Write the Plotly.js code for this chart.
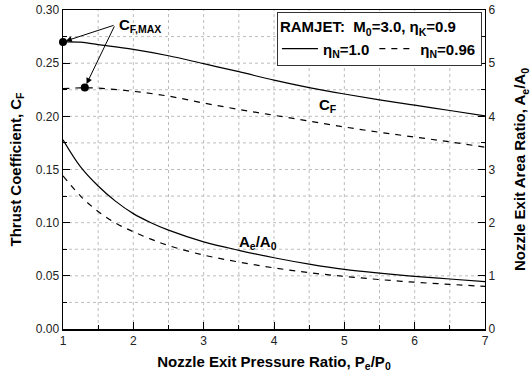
<!DOCTYPE html>
<html>
<head>
<meta charset="utf-8">
<script src="https://cdn.plot.ly/plotly-3.0.1.min.js"></script>
<style>html,body{margin:0;padding:0;background:#fff;}#chart{width:531px;height:378px;}</style>
</head>
<body>
<div id="chart"></div>
<script>
// Pressure ratio Pe/P0
const cfX = [1, 1.25, 1.5, 2, 2.5, 3, 3.5, 4, 4.5, 5, 5.5, 6, 6.5, 7];
// Thrust coefficient, eta_N = 1.0
const cfIdeal = [0.270, 0.2697, 0.2675, 0.263, 0.257, 0.2495, 0.2420, 0.2340, 0.2270, 0.2210, 0.2155, 0.2105, 0.2055, 0.2005];
// Thrust coefficient, eta_N = 0.96
const cfReal = [0.226, 0.2268, 0.2265, 0.2235, 0.219, 0.2125, 0.2065, 0.2010, 0.1955, 0.1900, 0.1850, 0.1805, 0.1760, 0.1710];

const aeX = [1, 1.25, 1.5, 1.75, 2, 2.25, 2.5, 3, 3.5, 4, 4.5, 5, 5.5, 6, 6.5, 7];
// Nozzle exit area ratio Ae/A0, eta_N = 1.0
const aeIdeal = [3.56, 3.05, 2.69, 2.40, 2.17, 2.00, 1.86, 1.64, 1.48, 1.34, 1.22, 1.12, 1.05, 0.99, 0.94, 0.89];
// Nozzle exit area ratio Ae/A0, eta_N = 0.96
const aeReal = [2.88, 2.50, 2.21, 1.99, 1.83, 1.69, 1.57, 1.39, 1.26, 1.15, 1.06, 0.99, 0.93, 0.88, 0.84, 0.80];

// Maximum thrust coefficient points
const maxX = [1, 1.31];
const maxCF = [0.270, 0.227];

// Grid positions (every half unit in x, every 0.025 in CF)
const xGrid = [1.5, 2, 2.5, 3, 3.5, 4, 4.5, 5, 5.5, 6, 6.5];
const yGrid = [0.025, 0.05, 0.075, 0.10, 0.125, 0.15, 0.175, 0.20, 0.225, 0.25, 0.275];
const y2Ticks = [0, 1, 2, 3, 4, 5, 6];

const FONT = 'Liberation Sans, Arial, sans-serif';
const solid = {color: '#000', width: 1.2, shape: 'spline', smoothing: 1};
const dashed = {color: '#000', width: 1.2, dash: '6px,6px', shape: 'spline', smoothing: 1};

const traces = [
  {x: cfX, y: cfIdeal, mode: 'lines', line: solid, name: 'η<sub>N</sub>=1.0', legendgroup: 'a', showlegend: true},
  {x: cfX, y: cfReal, mode: 'lines', line: dashed, name: 'η<sub>N</sub>=0.96', legendgroup: 'b', showlegend: true},
  {x: aeX, y: aeIdeal, yaxis: 'y2', mode: 'lines', line: solid, legendgroup: 'a', showlegend: false},
  {x: aeX, y: aeReal, yaxis: 'y2', mode: 'lines', line: dashed, legendgroup: 'b', showlegend: false},
  {x: maxX, y: maxCF, mode: 'markers', marker: {color: '#000', size: 8}, showlegend: false, cliponaxis: false}
];

const gridLine = {color: '#bdbdbd', width: 1, dash: 'dot'};
const shapes = [];
xGrid.forEach(v => shapes.push({type: 'line', layer: 'below', xref: 'x', yref: 'paper', x0: v, x1: v, y0: 0, y1: 1, line: gridLine}));
yGrid.forEach(v => shapes.push({type: 'line', layer: 'below', xref: 'paper', yref: 'y', x0: 0, x1: 1, y0: v, y1: v, line: gridLine}));

const layout = {
  width: 531, height: 378,
  margin: {l: 63, r: 46, t: 10, b: 49},
  paper_bgcolor: '#fff', plot_bgcolor: '#fff',
  font: {family: FONT, color: '#000', size: 12},
  showlegend: true,
  shapes: shapes,
  legend: {
    x: 0.507, y: 0.994, xanchor: 'left', yanchor: 'top',
    orientation: 'h',
    bgcolor: '#fff', bordercolor: '#333', borderwidth: 1,
    font: {family: FONT, size: 15, color: '#000', weight: 'bold'},
    title: {text: '<b>RAMJET:  M<sub>0</sub>=3.0, η<sub>K</sub>=0.9</b>', side: 'top', font: {family: FONT, size: 15, color: '#000'}},
    itemwidth: 36, tracegroupgap: 0
  },
  xaxis: {
    range: [1, 7], tickmode: 'linear', tick0: 1, dtick: 1, ticks: 'inside', ticklen: 7, tickwidth: 1, tickcolor: '#000',
    showline: true, linecolor: '#000', linewidth: 1.5, mirror: true,
    showgrid: false, zeroline: false,
    minor: {dtick: 0.5, ticks: 'inside', ticklen: 4, tickcolor: '#000', showgrid: false},
    tickfont: {family: FONT, size: 12, color: '#222'},
    title: {text: '<b>Nozzle Exit Pressure Ratio, P<sub>e</sub>/P<sub>0</sub></b>', font: {family: FONT, size: 15, color: '#000'}, standoff: 9}
  },
  yaxis: {
    range: [0, 0.30], tickmode: 'linear', tick0: 0, dtick: 0.05, tickformat: '.2f', ticks: 'inside', ticklen: 7, tickwidth: 1, tickcolor: '#000',
    showline: true, linecolor: '#000', linewidth: 1.5, mirror: false,
    showgrid: false, zeroline: false,
    minor: {dtick: 0.025, ticks: 'inside', ticklen: 4, tickcolor: '#000', showgrid: false},
    tickfont: {family: FONT, size: 12, color: '#222'},
    title: {text: '<b>Thrust Coefficient, C<sub>F</sub></b>', font: {family: FONT, size: 15, color: '#000'}, standoff: 10}
  },
  yaxis2: {
    overlaying: 'y', side: 'right', range: [0, 6], tickvals: y2Ticks, ticks: 'inside', ticklen: 7, tickcolor: '#000',
    showline: true, linecolor: '#000', linewidth: 1.2, showgrid: false, zeroline: false,
    minor: {dtick: 0.5, ticks: 'inside', ticklen: 4, tickcolor: '#000', showgrid: false},
    tickfont: {family: FONT, size: 12, color: '#222'},
    title: {text: '<b>Nozzle Exit Area Ratio, A<sub>e</sub>/A<sub>0</sub></b>', font: {family: FONT, size: 15, color: '#000'}, standoff: 20}
  },
  annotations: [
    {x: 2.09, y: 0.285, xref: 'x', yref: 'y', text: '<b>C<sub>F,MAX</sub></b>', showarrow: false, font: {family: FONT, size: 15, color: '#000'}},
    {x: maxX[0], y: maxCF[0], ax: 1.74, ay: 0.286, axref: 'x', ayref: 'y', xref: 'x', yref: 'y', text: '', showarrow: true, arrowhead: 2, arrowsize: 1.2, arrowwidth: 1, arrowcolor: '#000', standoff: 3},
    {x: maxX[1], y: maxCF[1], ax: 1.74, ay: 0.286, axref: 'x', ayref: 'y', xref: 'x', yref: 'y', text: '', showarrow: true, arrowhead: 2, arrowsize: 1.2, arrowwidth: 1, arrowcolor: '#000', standoff: 4},
    {x: 4.77, y: 0.210, xref: 'x', yref: 'y', text: '<b>C<sub>F</sub></b>', showarrow: false, font: {family: FONT, size: 15, color: '#000'}},
    {x: 3.77, y: 0.081, xref: 'x', yref: 'y', text: '<b>A<sub>e</sub>/A<sub>0</sub></b>', showarrow: false, font: {family: FONT, size: 15, color: '#000'}}
  ]
};

Plotly.newPlot('chart', traces, layout, {displayModeBar: false, staticPlot: true});
</script>
</body>
</html>
